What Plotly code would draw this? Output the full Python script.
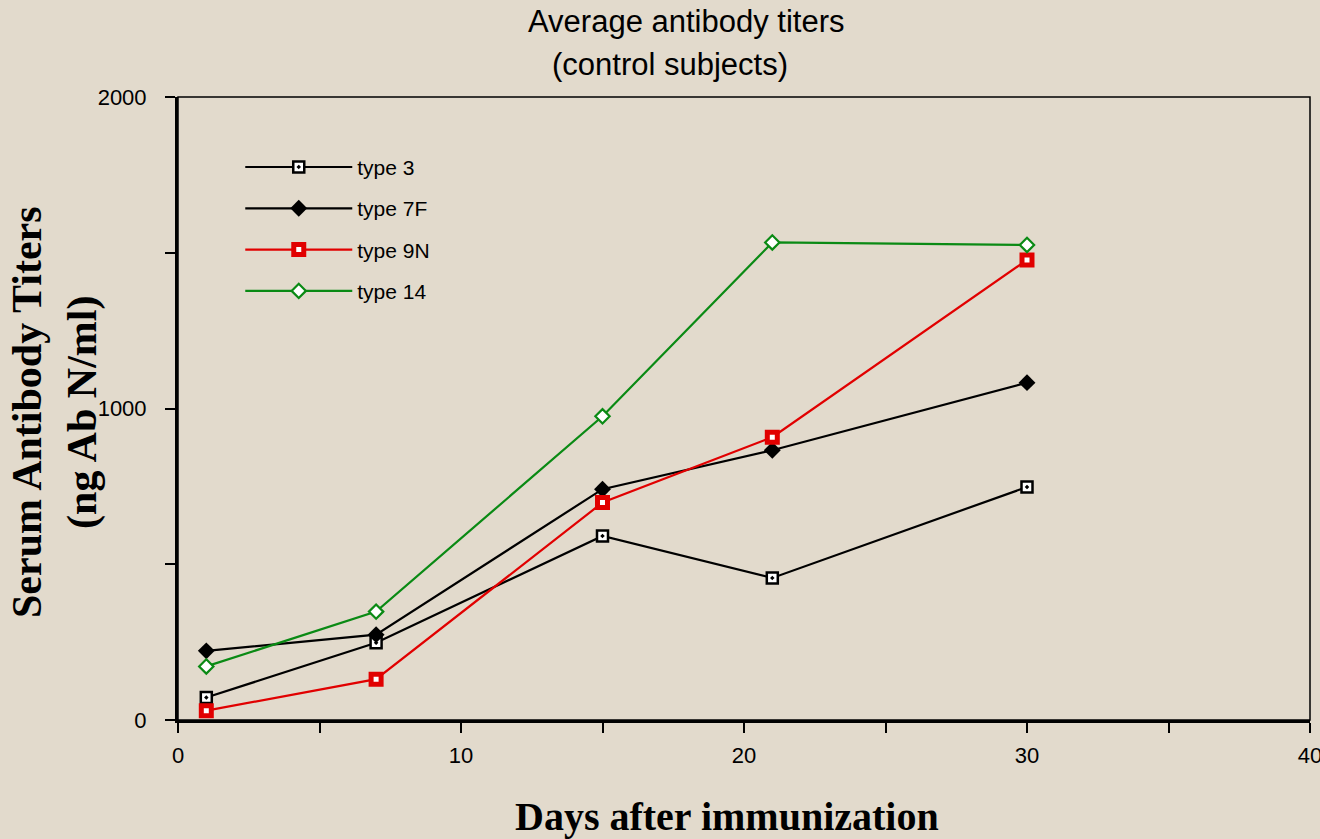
import plotly.graph_objects as go

days = [1, 7, 15, 21, 30]
series_names = ["type 3", "type 7F", "type 9N", "type 14"]
type3 = [72, 248, 591, 456, 748]
type7f = [222, 274, 741, 866, 1083]
type9n = [30, 131, 698, 908, 1477]
type14 = [172, 348, 975, 1533, 1525]

x_ticks = [0, 10, 20, 30, 40]
y_ticks = [0, 1000, 2000]

BG = "#E2DACC"
RED = "#E10000"
GREEN = "#0A8A14"

fig = go.Figure()

styles = [
    dict(line=dict(color="black", width=2.2),
         marker=dict(symbol="square-dot", size=11, color="white",
                     line=dict(color="black", width=2.5))),
    dict(line=dict(color="black", width=2.2),
         marker=dict(symbol="diamond", size=13, color="black",
                     line=dict(color="black", width=0))),
    dict(line=dict(color=RED, width=2.2),
         marker=dict(symbol="square", size=10, color="white",
                     line=dict(color=RED, width=5))),
    dict(line=dict(color=GREEN, width=2.2),
         marker=dict(symbol="diamond", size=11, color="white",
                     line=dict(color=GREEN, width=2.2))),
]

for name, vals, st in zip(series_names, [type3, type7f, type9n, type14], styles):
    fig.add_trace(go.Scatter(x=days, y=vals, mode="lines+markers", name=name,
                             legendgroup=name, **st))

fig.update_layout(
    width=1320, height=839,
    paper_bgcolor=BG, plot_bgcolor=BG,
    margin=dict(l=178, r=10, t=97, b=119),
    font=dict(family="Arial, Liberation Sans", color="black"),
    showlegend=True,
    legend=dict(x=0.055, y=0.92, xanchor="left", yanchor="top",
                bgcolor="rgba(0,0,0,0)", font=dict(size=21),
                itemwidth=107, tracegroupgap=11),
    xaxis=dict(range=[0, 40], tickvals=x_ticks, ticktext=[str(v) for v in x_ticks],
               showgrid=False, zeroline=False, showline=True, linecolor="black",
               linewidth=3, ticks="outside", ticklen=10, tickwidth=2, tickcolor="black",
               minor=dict(dtick=5, tick0=0, ticks="outside", ticklen=10, tickwidth=2,
                          tickcolor="black", showgrid=False),
               tickfont=dict(size=22), ticklabelstandoff=4, ticklabeloverflow="allow",
               automargin=False),
    yaxis=dict(range=[0, 2000], tickvals=y_ticks, ticktext=[str(v) for v in y_ticks],
               showgrid=False, zeroline=False, showline=True, linecolor="black",
               linewidth=3, ticks="outside", ticklen=10, tickwidth=2, tickcolor="black",
               minor=dict(dtick=500, tick0=0, ticks="outside", ticklen=10, tickwidth=2,
                          tickcolor="black", showgrid=False),
               tickfont=dict(size=22), ticklabelstandoff=14, automargin=False),
)

# thin frame on top/right
fig.add_shape(type="rect", xref="paper", yref="paper", x0=0, y0=0, x1=1, y1=1,
              line=dict(color="black", width=1.5), layer="below")

fig.add_annotation(text="Average antibody titers", xref="paper", yref="paper",
                   x=(686 - 178) / 1132, y=1 + (97 - 22) / 623, showarrow=False,
                   xanchor="center", yanchor="middle", font=dict(size=31))
fig.add_annotation(text="(control subjects)", xref="paper", yref="paper",
                   x=(670 - 178) / 1132, y=1 + (97 - 64) / 623, showarrow=False,
                   xanchor="center", yanchor="middle", font=dict(size=31))
fig.add_annotation(text="<b>Days after immunization</b>", xref="paper", yref="paper",
                   x=(727 - 178) / 1132, y=-(816 - 720) / 623, showarrow=False,
                   xanchor="center", yanchor="middle",
                   font=dict(size=40, family="Times New Roman, Liberation Serif"))
fig.add_annotation(text="<b>Serum Antibody Titers<br>(ng Ab N/ml)</b>", xref="paper", yref="paper",
                   x=(55 - 178) / 1132, y=(720 - 412) / 623, showarrow=False,
                   xanchor="center", yanchor="middle", textangle=-90,
                   font=dict(size=42, family="Times New Roman, Liberation Serif"))

fig.write_html("out.html", config={"displayModeBar": False},
               post_script="document.body.style.margin='0';document.body.style.overflow='hidden';")
